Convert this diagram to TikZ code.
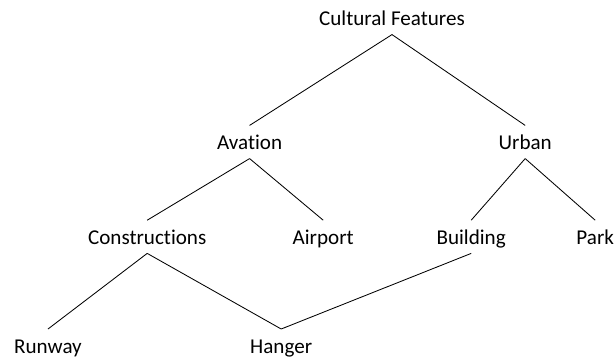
\documentclass[tikz,border=0pt]{standalone}
\usepackage{fontspec}
\setmainfont{Carlito}[Ligatures=NoCommon]

\begin{document}
\begin{tikzpicture}[every node/.style={inner sep=0pt, text height=17pt, text depth=6pt,
			font=\fontsize{15}{18}\selectfont},
			every path/.style={line width=0.6pt}]
			\useasboundingbox (0,0) rectangle (15.4,9);
			
			% Top of the tree
			\node (CF) at (9.8, 8.55) {Cultural Features};
			
			% Second line
			\node (Av) at (6.24, 5.45) {Avation};
			\node (Ur) at (13.13, 5.45) {Urban};
			
			% Third line
			\node (Con) at (3.68, 3.08) {Constructions};
			\node (Air) at (8.08, 3.08) {Airport};
			\node (Bld) at (11.78, 3.08) {Building};
			\node (Park) at (14.88, 3.08) {Park};
			
			% Bottom line
			\node (Run) at (1.2, 0.36) {Runway};
			\node (Hang) at (7.03, 0.36) {Hanger};
			
			% Branches
			\draw (CF.south) -- (Av.north);
			\draw (CF.south) -- (Ur.north);
			\draw (Av.south) -- (Con.north);
			\draw (Av.south) -- (Air.north);
			\draw (Ur.south) -- (Bld.north);
			\draw (Ur.south) -- (Park.north);
			\draw (Con.south) -- (Run.north);
			\draw (Con.south) -- (Hang.north);
			\draw (Bld.south) -- (Hang.north);
		\end{tikzpicture}
\end{document}
